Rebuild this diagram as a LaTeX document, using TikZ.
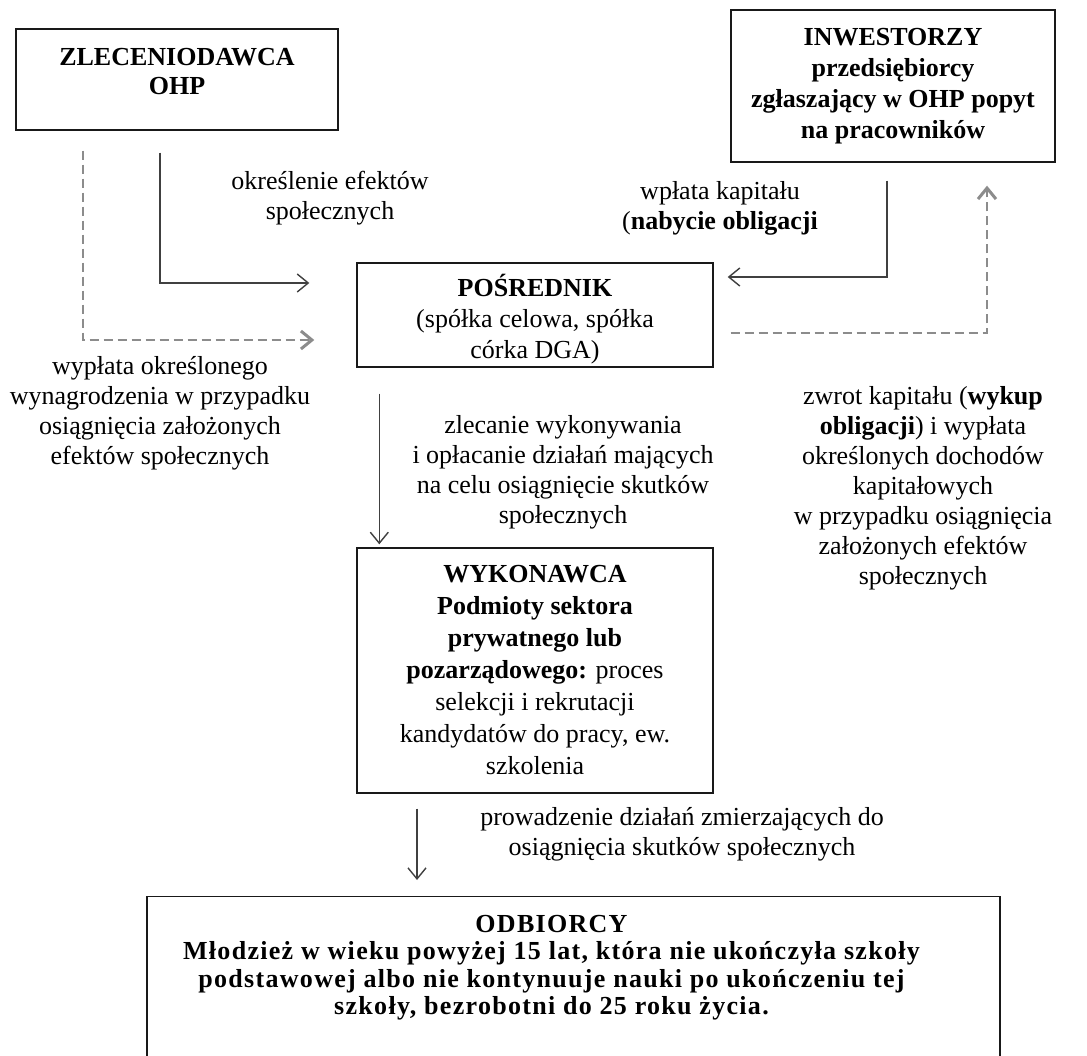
\documentclass[tikz,border=0pt]{standalone}
\usepackage{fontspec}
\setmainfont{Liberation Serif}
\usetikzlibrary{arrows.meta}
\begin{document}
\begin{tikzpicture}[x=1pt,y=-1pt,
  font=\fontsize{26}{31}\selectfont,
  box/.style={draw=black!90, line width=1.4pt, align=center, inner sep=0pt},
  boxtext/.style={align=center, inner sep=0pt},
  flow/.style={draw=black!75, line width=1.4pt,
    -{Straight Barb[length=11pt,width=18pt,line width=1.4pt]}},
  back/.style={draw=black!45, line width=2.6pt, dash pattern=on 9pt off 5pt,
    -{Straight Barb[length=11pt,width=18pt,line width=3pt]}},
  lbl/.style={align=center, inner sep=0pt, font=\fontsize{26}{30}\selectfont},
]
\useasboundingbox (0,0) rectangle (1087,1056);
\clip (0,0) rectangle (1087,1056);
\fill[white] (0,0) rectangle (1087,1056);

% parties
\node[box, minimum width=322pt, minimum height=101pt] (zlec) at (177,79.5) {};
\node[boxtext, font=\fontsize{26}{29}\selectfont\bfseries] (zlectext) at ([yshift=8pt]zlec.center)
  {ZLECENIODAWCA\\OHP};
\node[box, minimum width=324pt, minimum height=152pt] (inw) at (893,86)
  {\textbf{INWESTORZY}\\\textbf{przedsiębiorcy}\\\textbf{zgłaszający w OHP popyt}\\\textbf{na pracowników}};
\node[box, minimum width=356pt, minimum height=104pt] (pos) at (535,315) {};
\node[boxtext] (postext) at ([yshift=-4pt]pos.center)
  {\textbf{POŚREDNIK}\\(spółka celowa, spółka\\córka DGA)};
\node[box, minimum width=356pt, minimum height=245pt, font=\fontsize{26}{32}\selectfont] (wyk) at (535,670.5)
  {\textbf{WYKONAWCA}\\\textbf{Podmioty sektora}\\\textbf{prywatnego lub}\\\textbf{pozarządowego:} proces\\selekcji i rekrutacji\\kandydatów do pracy, ew.\\szkolenia};
% the recipients' box runs on below the lower edge
\node[box, minimum width=853pt, minimum height=180pt, anchor=north] (odb) at (573.5,896) {};
\node[boxtext, anchor=north, font=\fontsize{26}{27.5}\selectfont\bfseries\addfontfeature{LetterSpace=5}] (odbtext)
  at ([xshift=-22pt,yshift=-19pt]odb.north)
  {ODBIORCY\\Młodzież w wieku powyżej 15 lat, która nie ukończyła szkoły\\podstawowej albo nie kontynuuje nauki po ukończeniu tej\\szkoły, bezrobotni do 25 roku życia.};

% flows
\draw[flow] ([xshift=-17pt,yshift=-22pt]zlec.south) |- ([xshift=-47pt,yshift=32pt]pos.west);
\draw[back] ([xshift=-94pt,yshift=-20pt]zlec.south) |- ([xshift=-42pt,yshift=-25pt]pos.west);
\draw[flow] ([xshift=-6pt,yshift=-18pt]inw.south) |- ([xshift=14pt,yshift=38pt]pos.east);
\draw[back] ([xshift=17pt,yshift=-18pt]pos.east) -| ([xshift=94pt,yshift=-23pt]inw.south);
\draw[flow] ([xshift=23pt,yshift=-26pt]pos.south west) -- ([xshift=23pt,yshift=3pt]wyk.north west);
\draw[flow] ([xshift=-118pt,yshift=-15pt]wyk.south) -- ([xshift=-156.5pt,yshift=16pt]odb.north);

% flow descriptions
\node[lbl] (l1) at (330,198) {określenie efektów\\społecznych};
\node[lbl] (l2) at (720,208) {wpłata kapitału\\(\textbf{nabycie obligacji}};
\node[lbl] (l3) at (160,413) {wypłata określonego\\wynagrodzenia w przypadku\\osiągnięcia założonych\\efektów społecznych};
\node[lbl] (l4) at (923,488) {zwrot kapitału (\textbf{wykup}\\\textbf{obligacji}) i wypłata\\określonych dochodów\\kapitałowych\\w przypadku osiągnięcia\\założonych efektów\\społecznych};
\node[lbl] (l5) at (563,472) {zlecanie wykonywania\\i opłacanie działań mających\\na celu osiągnięcie skutków\\społecznych};
\node[lbl] (l6) at (682,834) {prowadzenie działań zmierzających do\\osiągnięcia skutków społecznych};
\end{tikzpicture}
\end{document}
